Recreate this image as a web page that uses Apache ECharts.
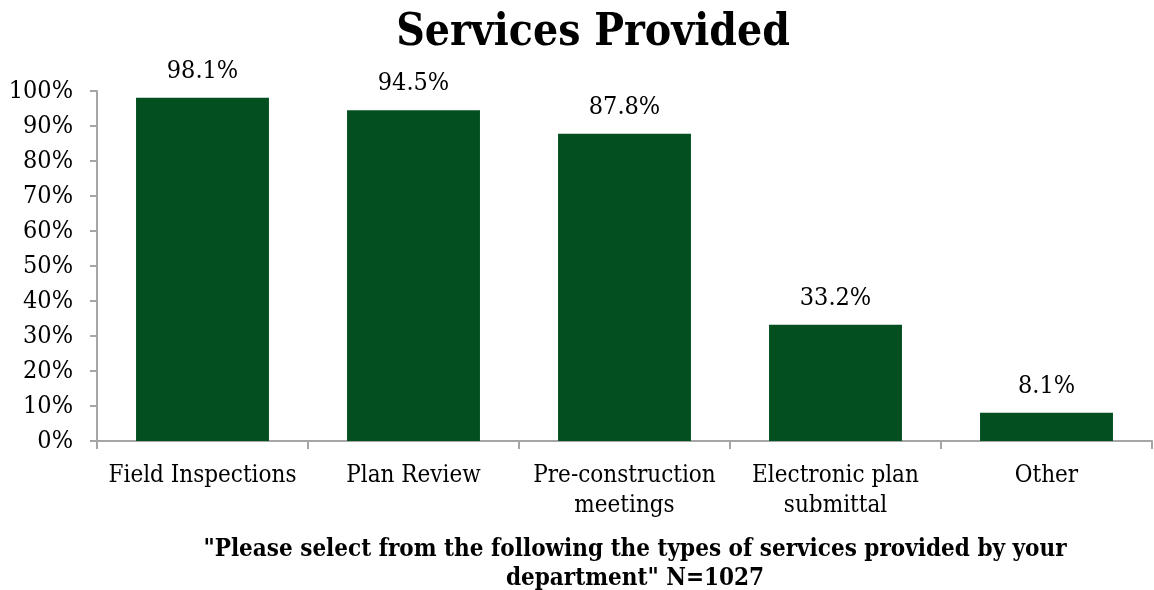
<!DOCTYPE html>
<html>
<head>
<meta charset="utf-8">
<script src="https://cdn.jsdelivr.net/npm/echarts@6/dist/echarts.min.js"></script>
<style>
  html, body { margin: 0; padding: 0; background: #fff; }
  #chart { width: 1154px; height: 590px; }
</style>
</head>
<body>
<div id="chart"></div>
<script>
// Services provided by responding departments (share of respondents)
const categories = [
  'Field Inspections',
  'Plan Review',
  'Pre-construction\nmeetings',
  'Electronic plan\nsubmittal',
  'Other'
];
const shares = [98.1, 94.5, 87.8, 33.2, 8.1];
const yTicks = [0, 10, 20, 30, 40, 50, 60, 70, 80, 90, 100];

const FONT = "'DejaVu Serif Condensed', 'DejaVu Serif', 'Liberation Serif', serif";
const chart = echarts.init(document.getElementById('chart'), null, { renderer: 'canvas' });

chart.setOption({
  animation: false,
  backgroundColor: '#ffffff',
  title: [
    {
      text: 'Services Provided',
      left: 588,
      textAlign: 'center',
      top: 7,
      textStyle: { fontFamily: FONT, fontWeight: 'bold', fontSize: 44, color: '#000' }
    },
    {
      text: '"Please select from the following the types of services provided by your\ndepartment" N=1027',
      left: 630,
      textAlign: 'center',
      top: 530,
      textStyle: { fontFamily: FONT, fontWeight: 'bold', fontSize: 24, color: '#000', lineHeight: 29, align: 'center' }
    }
  ],
  grid: { left: 97, right: 2, top: 91, bottom: 149, containLabel: false },
  xAxis: {
    type: 'category',
    data: categories,
    axisLine: { lineStyle: { color: '#a6a6a6', width: 2 } },
    axisTick: { show: true, alignWithLabel: false, length: 8, lineStyle: { color: '#a6a6a6', width: 2 } },
    axisLabel: {
      interval: 0,
      margin: 20,
      fontFamily: FONT,
      fontSize: 24,
      color: '#000',
      lineHeight: 30
    }
  },
  yAxis: {
    type: 'value',
    min: yTicks[0],
    max: yTicks[yTicks.length - 1],
    interval: 10,
    splitLine: { show: false },
    axisLine: { show: true, lineStyle: { color: '#a6a6a6', width: 2 } },
    axisTick: { show: true, length: 7, lineStyle: { color: '#a6a6a6', width: 2 } },
    axisLabel: {
      margin: 24,
      fontFamily: FONT,
      fontSize: 25,
      color: '#000',
      formatter: v => v + '%'
    }
  },
  series: [{
    type: 'bar',
    data: shares,
    barCategoryGap: '37%',
    itemStyle: { color: '#034f20' },
    label: {
      show: true,
      position: 'top',
      distance: 14,
      fontFamily: FONT,
      fontSize: 25,
      color: '#000',
      formatter: p => p.value.toFixed(1) + '%'
    }
  }]
});
</script>
</body>
</html>
